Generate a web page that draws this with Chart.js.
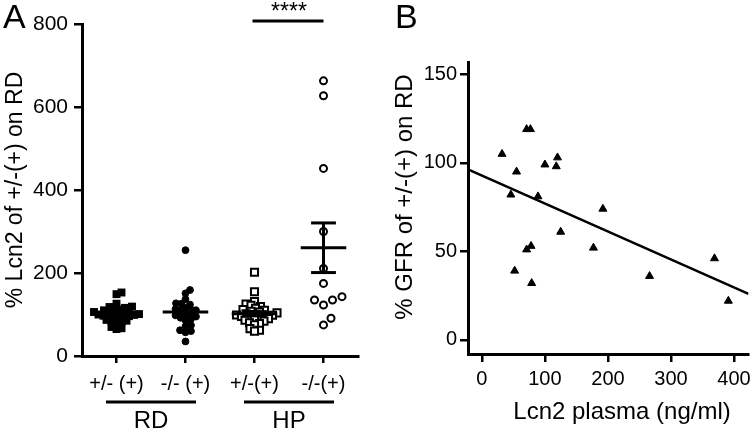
<!DOCTYPE html>
<html>
<head>
<meta charset="utf-8">
<title>Lcn2 on RD / HP and GFR</title>
<script src="https://cdn.jsdelivr.net/npm/chart.js@4.4.1/dist/chart.umd.min.js"></script>
<style>
  html, body { margin: 0; padding: 0; background: #fff; }
  #wrap { position: relative; width: 756px; height: 429px; }
  #wrap canvas { position: absolute; top: 0; }
  #panelA { left: 0; }
  #panelB { left: 378px; }
</style>
</head>
<body>
<div id="wrap">
  <canvas id="panelA" width="378" height="429"></canvas>
  <canvas id="panelB" width="378" height="429"></canvas>
</div>
<script>
// ---- panel A data: % Lcn2 of +/-(+) on RD ----
var groupLabels = ['+/- (+)', '-/- (+)', '+/-(+)', '-/-(+)'];
var rdHet = [153, 149, 126, 119, 118, 116, 114, 112, 110, 108, 106, 105, 104, 102, 101,
             100, 99, 97, 96, 95, 93, 90, 87, 85, 83, 81, 78, 70, 67, 65];
var rdKo = [255, 159, 151, 137, 127, 126, 124, 116, 113, 110, 107, 104, 101, 98, 95,
            92, 89, 86, 74, 72, 62, 60, 57, 35];
var hpHet = [202, 155, 131, 125, 122, 119, 115, 112, 110, 108, 106, 104, 102, 100, 99,
             98, 97, 95, 93, 91, 90, 88, 86, 84, 80, 78, 75, 66, 62, 60];
var hpKo = [663, 627, 452, 300, 211, 175, 143, 135, 123, 135, 91, 75];
var yTicksA = [0, 200, 400, 600, 800];

// ---- panel B data: GFR vs plasma Lcn2 ----
var lcn2Plasma = [32, 71, 77, 55, 46, 100, 118, 120, 89, 192, 125, 71, 78, 52, 79, 177, 266, 369, 391];
var gfrPct = [105, 119, 119, 95, 82, 99, 98, 103, 81, 74, 61, 51, 53, 39, 32, 52, 36, 46, 22];
var xTicksB = [0, 100, 200, 300, 400];
var yTicksB = [0, 50, 100, 150];

var FONT = 'Liberation Sans, Arial, Helvetica, sans-serif';
var black = '#000';

// plot area of panel A in px, used for layout and for the swarm spacing
var areaA = { left: 82, top: 24, right: 358, bottom: 356 };
var xRangeA = [0.5, 4.5], yRangeA = [0, 800];

// simple beeswarm: push points sideways until they stop colliding
function swarm(values, diam) {
  var pxY = (areaA.bottom - areaA.top) / (yRangeA[1] - yRangeA[0]);
  var pxX = (areaA.right - areaA.left) / (xRangeA[1] - xRangeA[0]);
  var order = values.map(function (v, i) { return i; })
    .sort(function (a, b) { return values[a] - values[b]; });
  var placed = [], offs = [];
  order.forEach(function (i) {
    var y = values[i] * pxY, dx = 0;
    for (var k = 0; k < 400; k++) {
      dx = (k % 2 ? 1 : -1) * Math.ceil(k / 2) * 0.5;
      var free = placed.every(function (p) { return Math.hypot(p.x - dx, p.y - y) >= diam; });
      if (free) break;
    }
    placed.push({ x: dx, y: y });
    offs[i] = dx / pxX;
  });
  return offs;
}

var groups = [
  { values: rdHet, style: 'rect', radius: 5.6, fill: black, border: 0, gap: 5 },
  { values: rdKo, style: 'circle', radius: 3.4, fill: black, border: 1, gap: 5.5 },
  { values: hpHet, style: 'rect', radius: 5, fill: '#fff', border: 2, gap: 5 },
  { values: hpKo, style: 'circle', radius: 3.5, fill: '#fff', border: 2, gap: 10 }
];

function mean(a) { return a.reduce(function (s, v) { return s + v; }, 0) / a.length; }
function sem(a) {
  var m = mean(a);
  var ss = a.reduce(function (s, v) { return s + (v - m) * (v - m); }, 0);
  return Math.sqrt(ss / (a.length - 1)) / Math.sqrt(a.length);
}

var datasetsA = groups.map(function (g, gi) {
  var offs = swarm(g.values, g.gap);
  return {
    label: groupLabels[gi],
    data: g.values.map(function (v, i) { return { x: gi + 1 + offs[i], y: v }; }),
    pointStyle: g.style,
    pointRadius: g.radius,
    pointBackgroundColor: g.fill,
    pointBorderColor: black,
    pointBorderWidth: g.border
  };
});

function line(ctx, x1, y1, x2, y2, w) {
  ctx.beginPath();
  ctx.lineWidth = w;
  ctx.moveTo(x1, y1);
  ctx.lineTo(x2, y2);
  ctx.stroke();
}

var extrasA = {
  id: 'extrasA',
  afterDatasetsDraw: function (chart) {
    var ctx = chart.ctx, x = chart.scales.x, y = chart.scales.y;
    ctx.save();
    ctx.strokeStyle = black;
    // mean +/- SEM
    groups.forEach(function (g, gi) {
      var m = mean(g.values), e = sem(g.values), cx = gi + 1;
      line(ctx, x.getPixelForValue(cx - 0.33), y.getPixelForValue(m), x.getPixelForValue(cx + 0.33), y.getPixelForValue(m), 3);
      line(ctx, x.getPixelForValue(cx - 0.18), y.getPixelForValue(m + e), x.getPixelForValue(cx + 0.18), y.getPixelForValue(m + e), 3);
      line(ctx, x.getPixelForValue(cx - 0.18), y.getPixelForValue(m - e), x.getPixelForValue(cx + 0.18), y.getPixelForValue(m - e), 3);
      line(ctx, x.getPixelForValue(cx), y.getPixelForValue(m + e), x.getPixelForValue(cx), y.getPixelForValue(m - e), 3);
    });
    ctx.restore();
  },
  afterDraw: function (chart) {
    var ctx = chart.ctx, x = chart.scales.x;
    ctx.save();
    ctx.strokeStyle = black;
    ctx.fillStyle = black;
    // significance bar between HP groups
    line(ctx, x.getPixelForValue(3) - 2, 21, x.getPixelForValue(4), 21, 3);
    ctx.font = '23px ' + FONT;
    ctx.textAlign = 'center';
    ctx.textBaseline = 'alphabetic';
    ctx.fillText('****', (x.getPixelForValue(3) + x.getPixelForValue(4)) / 2, 19);
    // RD / HP brackets under the tick labels
    [['RD', 1.5], ['HP', 3.5]].forEach(function (b) {
      var c = x.getPixelForValue(b[1]);
      line(ctx, c - 45, 402, c + 45, 402, 3);
      ctx.font = '24px ' + FONT;
      ctx.fillText(b[0], c, 428);
    });
    // panel letter
    ctx.font = '34px ' + FONT;
    ctx.textAlign = 'left';
    ctx.fillText('A', 3, 28);
    // y title
    ctx.translate(16, (chart.chartArea.top + chart.chartArea.bottom) / 2);
    ctx.rotate(-Math.PI / 2);
    ctx.font = '23px ' + FONT;
    ctx.textAlign = 'center';
    ctx.textBaseline = 'middle';
    ctx.fillText('% Lcn2 of +/-(+) on RD', 0, 0);
    ctx.restore();
  }
};

new Chart(document.getElementById('panelA'), {
  type: 'scatter',
  data: { datasets: datasetsA },
  options: {
    responsive: false,
    animation: false,
    layout: { padding: { left: 0, top: areaA.top, right: 378 - areaA.right, bottom: 0 } },
    plugins: { legend: { display: false }, tooltip: { enabled: false } },
    scales: {
      x: {
        type: 'linear',
        min: xRangeA[0],
        max: xRangeA[1],
        afterBuildTicks: function (s) { s.ticks = groupLabels.map(function (l, i) { return { value: i + 1 }; }); },
        afterFit: function (s) { s.height = 429 - areaA.bottom; },
        ticks: {
          autoSkip: false,
          maxRotation: 0,
          color: black,
          padding: 9,
          font: { family: FONT, size: 20 },
          callback: function (v, i) { return groupLabels[i]; }
        },
        grid: { drawOnChartArea: false, tickLength: 7, color: black, lineWidth: 2.5 },
        border: { color: black, width: 3 }
      },
      y: {
        min: yRangeA[0],
        max: yRangeA[1],
        afterBuildTicks: function (s) { s.ticks = yTicksA.map(function (v) { return { value: v }; }); },
        afterFit: function (s) { s.width = areaA.left; },
        ticks: { color: black, padding: 6, font: { family: FONT, size: 21 } },
        grid: { drawOnChartArea: false, tickLength: 8, color: black, lineWidth: 2.5 },
        border: { color: black, width: 3 }
      }
    }
  },
  plugins: [extrasA]
});

// ---- panel B ----
var areaB = { left: 90, top: 62, right: 375, bottom: 354 };
var xRangeB = [-22, 423], yRangeB = [-8, 157];

// least squares fit of GFR on Lcn2
var mx = mean(lcn2Plasma), my = mean(gfrPct), sxy = 0, sxx = 0;
lcn2Plasma.forEach(function (v, i) {
  sxy += (v - mx) * (gfrPct[i] - my);
  sxx += (v - mx) * (v - mx);
});
var slope = sxy / sxx, icept = my - slope * mx;

var extrasB = {
  id: 'extrasB',
  afterDraw: function (chart) {
    var ctx = chart.ctx;
    ctx.save();
    ctx.fillStyle = black;
    ctx.font = '34px ' + FONT;
    ctx.textBaseline = 'alphabetic';
    ctx.fillText('B', 17, 28);
    ctx.font = '24px ' + FONT;
    ctx.textAlign = 'center';
    ctx.fillText('Lcn2 plasma (ng/ml)', 244, 419);
    ctx.translate(27, 197);
    ctx.rotate(-Math.PI / 2);
    ctx.textBaseline = 'middle';
    ctx.fillText('% GFR of +/-(+) on RD', 0, 0);
    ctx.restore();
  }
};

new Chart(document.getElementById('panelB'), {
  type: 'scatter',
  data: {
    datasets: [
      {
        label: 'GFR',
        data: lcn2Plasma.map(function (v, i) { return { x: v, y: gfrPct[i] }; }),
        pointStyle: 'triangle',
        pointRadius: 4.6,
        pointBackgroundColor: black,
        pointBorderColor: black,
        pointBorderWidth: 1
      },
      {
        type: 'line',
        label: 'fit',
        data: xRangeB.map(function (v) { return { x: v, y: icept + slope * v }; }),
        borderColor: black,
        borderWidth: 2.5,
        pointRadius: 0,
        fill: false
      }
    ]
  },
  options: {
    responsive: false,
    animation: false,
    layout: { padding: { left: 0, top: areaB.top, right: 378 - areaB.right, bottom: 0 } },
    plugins: { legend: { display: false }, tooltip: { enabled: false } },
    scales: {
      x: {
        type: 'linear',
        min: xRangeB[0],
        max: xRangeB[1],
        afterBuildTicks: function (s) { s.ticks = xTicksB.map(function (v) { return { value: v }; }); },
        afterFit: function (s) { s.height = 429 - areaB.bottom; },
        ticks: { color: black, padding: 5, maxRotation: 0, font: { family: FONT, size: 20 } },
        grid: { drawOnChartArea: false, tickLength: 8, color: black, lineWidth: 2.5 },
        border: { color: black, width: 3 }
      },
      y: {
        min: yRangeB[0],
        max: yRangeB[1],
        afterBuildTicks: function (s) { s.ticks = yTicksB.map(function (v) { return { value: v }; }); },
        afterFit: function (s) { s.width = areaB.left; },
        ticks: { color: black, padding: 3, font: { family: FONT, size: 20 } },
        grid: { drawOnChartArea: false, tickLength: 8, color: black, lineWidth: 2.5 },
        border: { color: black, width: 3 }
      }
    }
  },
  plugins: [extrasB]
});
</script>
</body>
</html>
